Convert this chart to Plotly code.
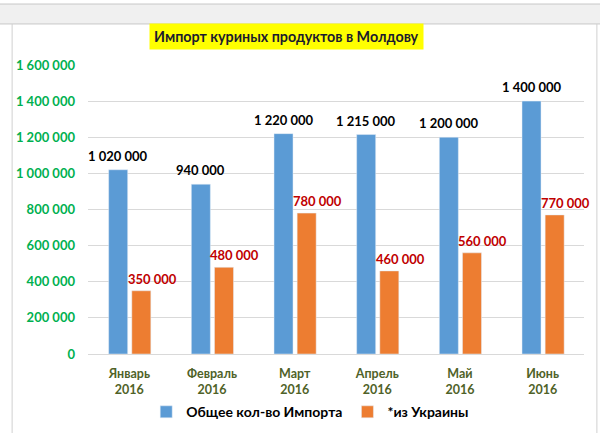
import plotly.graph_objects as go

months = ["Январь<br>2016", "Февраль<br>2016", "Март<br>2016", "Апрель<br>2016", "Май<br>2016", "Июнь<br>2016"]
total_import = [1020000, 940000, 1220000, 1215000, 1200000, 1400000]
from_ukraine = [350000, 480000, 780000, 460000, 560000, 770000]
y_ticks = [0, 200000, 400000, 600000, 800000, 1000000, 1200000, 1400000, 1600000]

def fmt(v):
    return f"{v:,}".replace(",", " ")

FONT = "Lato"
x = list(range(len(months)))

fig = go.Figure()
fig.add_trace(go.Bar(x=x, y=total_import, name="<b>Общее кол-во Импорта</b>",
                     marker_color="#5b9bd5", width=0.23, offset=-0.25))
fig.add_trace(go.Bar(x=x, y=from_ukraine, name="<b>*из Украины</b>",
                     marker_color="#ed7d31", width=0.23, offset=0.03))

ann = []
for i, v in enumerate(total_import):
    ann.append(dict(x=i - 0.135, y=v, xref="x", yref="y", text=f"<b>{fmt(v)}</b>",
                    showarrow=False, yanchor="bottom", yshift=4,
                    font=dict(family=FONT, size=13, color="#000000")))
for i, v in enumerate(from_ukraine):
    ann.append(dict(x=i + 0.145, y=v, xref="x", yref="y", text=f"<b>{fmt(v)}</b>",
                    showarrow=False, yanchor="bottom", yshift=2, xshift=11,
                    font=dict(family=FONT, size=13, color="#c00000")))
ann.append(dict(x=0.401, y=1.097, xref="paper", yref="paper",
                xanchor="center", yanchor="middle",
                text="<b>Импорт куриных продуктов в Молдову</b>", showarrow=False,
                bgcolor="#ffff00", borderpad=4,
                font=dict(family=FONT, size=14.3, color="#1a1a2e")))

shapes = [
    dict(type="rect", xref="paper", yref="paper", x0=-0.2, x1=1.1, y0=1.142, y1=1.211,
         fillcolor="#f0f0f0", line=dict(width=0), layer="below"),
    dict(type="line", xref="paper", yref="paper", x0=-0.2, x1=1.1, y0=1.211, y1=1.211,
         line=dict(color="#c8c8c8", width=1)),
    dict(type="line", xref="paper", yref="paper", x0=-0.2, x1=1.1, y0=1.142, y1=1.142,
         line=dict(color="#c8c8c8", width=1)),
    dict(type="line", xref="paper", yref="paper", x0=-0.153, x1=-0.153, y0=1.142, y1=-0.3,
         line=dict(color="#d0d0d0", width=1)),
    dict(type="line", xref="paper", yref="paper", x0=1.026, x1=1.026, y0=1.142, y1=-0.3,
         line=dict(color="#d0d0d0", width=1)),
]

fig.update_layout(
    width=600, height=433,
    margin=dict(l=88, r=16, t=65, b=79, autoexpand=False),
    paper_bgcolor="white", plot_bgcolor="white",
    font=dict(family=FONT),
    showlegend=True,
    legend=dict(orientation="h", x=0.448, xanchor="center",
                yref="container", y=0.048, yanchor="middle",
                font=dict(family=FONT, size=14, color="#000000"),
                traceorder="normal", itemwidth=30),
    annotations=ann, shapes=shapes,
    xaxis=dict(tickmode="array", tickvals=x, ticktext=[f"<b>{m}</b>" for m in months],
               range=[-0.5, 5.5], showgrid=False, zeroline=False,
               showline=True, linecolor="#d9d9d9", ticks="",
               ticklabelstandoff=8,
               tickfont=dict(family=FONT, size=12.5, color="#4f6228")),
    yaxis=dict(range=[0, 1600000], tickmode="array", tickvals=y_ticks,
               ticktext=[f"<b>{fmt(v)}</b>" for v in y_ticks],
               showgrid=True, gridcolor="#d9d9d9", zeroline=False, ticks="",
               ticklabelstandoff=12,
               tickfont=dict(family=FONT, size=13, color="#00b050")),
)
fig.write_html("out.html")
